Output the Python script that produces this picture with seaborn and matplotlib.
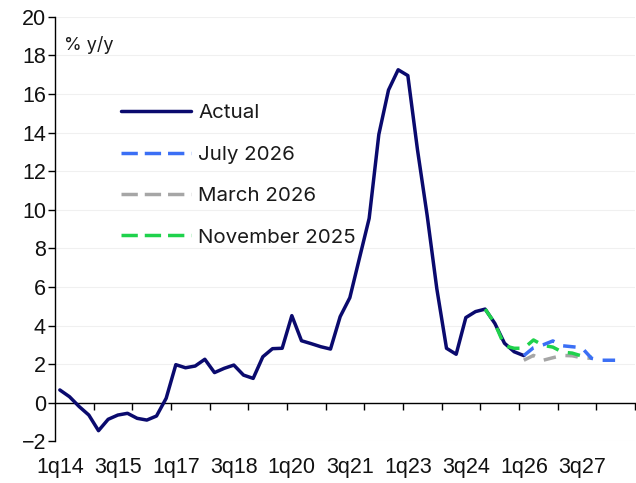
import matplotlib
matplotlib.use("Agg")
import matplotlib.pyplot as plt
from matplotlib.lines import Line2D
import seaborn as sns
import pandas as pd

# Quarterly timeline: 1q14 .. 4q28 (60 quarters)
n_quarters = 60
tick_positions = [0, 6, 12, 18, 24, 30, 36, 42, 48, 54]
tick_labels = ["1q14", "3q15", "1q17", "3q18", "1q20", "3q21", "1q23", "3q24", "1q26", "3q27"]

# Annual inflation, % y/y
actual_start = 0
actual = [0.66, 0.31, -0.2, -0.64, -1.45, -0.86, -0.64, -0.55, -0.81, -0.9,
          -0.69, 0.23, 1.97, 1.81, 1.9, 2.25, 1.56, 1.78, 1.95, 1.43,
          1.26, 2.38, 2.8, 2.82, 4.51, 3.21, 3.06, 2.9, 2.78, 4.46,
          5.44, 7.5, 9.55, 13.9, 16.2, 17.25, 16.95, 13.1, 9.7, 5.9,
          2.82, 2.51, 4.41, 4.72, 4.85, 4.11, 3.08, 2.64, 2.44]

nov25_start = 44
nov25 = [4.85, 4.11, 2.95, 2.82, 2.82, 3.25, 2.97, 2.88, 2.62, 2.57, 2.42, 2.35]

mar26_start = 48
mar26 = [2.2, 2.45, 2.2, 2.33, 2.45, 2.43, 2.33, 2.3]

jul26_start = 48
jul26 = [2.44, 2.85, 3.0, 3.2, 2.95, 2.9, 2.85, 2.3, 2.2, 2.2, 2.2]

series_names = ["Actual", "July 2026", "March 2026", "November 2025"]
colors = {"Actual": "#0a0a6e", "July 2026": "#3b6ff5",
          "March 2026": "#a6a6a6", "November 2025": "#1fd24c"}


def frame(start, values):
    return pd.DataFrame({"q": range(start, start + len(values)), "v": values})


sns.set_theme(style="white")
plt.rcParams["font.family"] = ["Liberation Sans", "DejaVu Sans"]

fig = plt.figure(figsize=(6.36, 4.83), dpi=100)
ax = fig.add_axes([55 / 636, 1 - 441.3 / 483, 580 / 636, (441.3 - 16.7) / 483])

lw = 2.5
dash = (0, (3.6, 2.8))
sns.lineplot(data=frame(actual_start, actual), x="q", y="v", ax=ax,
             color=colors["Actual"], lw=lw, zorder=3)
sns.lineplot(data=frame(mar26_start, mar26), x="q", y="v", ax=ax,
             color=colors["March 2026"], lw=lw, linestyle=dash, zorder=4)
sns.lineplot(data=frame(nov25_start, nov25), x="q", y="v", ax=ax,
             color=colors["November 2025"], lw=lw, linestyle=dash, zorder=5)
sns.lineplot(data=frame(jul26_start, jul26), x="q", y="v", ax=ax,
             color=colors["July 2026"], lw=lw, linestyle=dash, zorder=6)

ax.set_xlim(-0.5, n_quarters - 0.5)
ax.set_ylim(-2, 20)
ax.set_xlabel("")
ax.set_ylabel("")

# y axis
ax.set_yticks(range(-2, 21, 2))
ax.tick_params(axis="y", direction="out", length=5, width=1, color="black",
               pad=1.5, labelsize=15.5, labelcolor="#111111", left=True)
ax.yaxis.grid(True, color="#f0f0f0", lw=0.8)
ax.set_axisbelow(True)

# x axis line sits at zero, with boundary tick marks every four quarters
for s in ["top", "right"]:
    ax.spines[s].set_visible(False)
ax.spines["left"].set_color("black")
ax.spines["left"].set_linewidth(1)
ax.spines["bottom"].set_position(("data", 0))
ax.spines["bottom"].set_color("black")
ax.spines["bottom"].set_linewidth(1)
ax.set_xticks([b - 0.5 for b in range(4, n_quarters + 1, 4)])
ax.tick_params(axis="x", direction="out", length=5, width=1, color="black",
               labelbottom=False, bottom=True)

# category labels along the bottom edge
sec = ax.secondary_xaxis(0.0)
sec.set_xticks(tick_positions, tick_labels)
sec.tick_params(length=0, pad=11, labelsize=15.5, labelcolor="#111111")
sec.spines["bottom"].set_visible(False)

handles = [
    Line2D([], [], color=colors["Actual"], lw=lw),
    Line2D([], [], color=colors["July 2026"], lw=lw, ls=(0, (4.7, 2.0))),
    Line2D([], [], color=colors["March 2026"], lw=lw, ls=(0, (4.7, 2.0))),
    Line2D([], [], color=colors["November 2025"], lw=lw, ls=(0, (4.7, 2.0))),
]
ax.legend(handles, series_names, loc="upper left", frameon=False,
          bbox_to_anchor=(121 / 636, 1 - 104 / 483), bbox_transform=fig.transFigure,
          borderpad=0, borderaxespad=0, handlelength=3.4, handletextpad=0.35,
          labelspacing=1.12, prop={"family": "Inter", "size": 14.8},
          labelcolor="#1a1a1a")

fig.text(64 / 636, 1 - 45 / 483, "% y/y", family="Inter", fontsize=13,
         color="#1a1a1a", va="center", ha="left")

fig.savefig("out.png", dpi=100)
